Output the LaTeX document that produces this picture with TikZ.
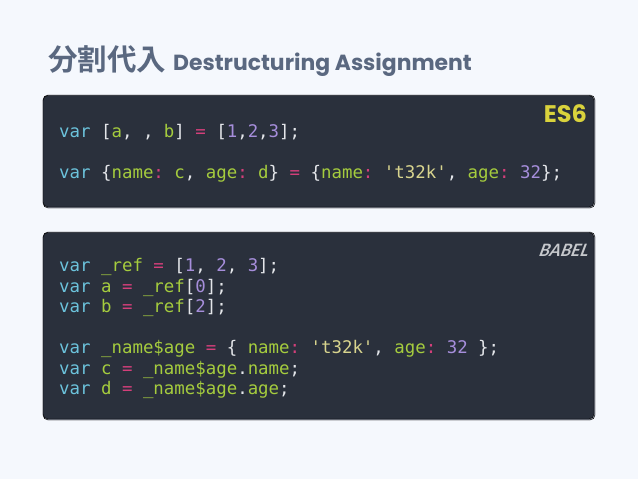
\documentclass[tikz,border=0pt]{standalone}
\usepackage{fontspec}
\setmainfont{Poppins}
\setmonofont{DejaVu Sans Mono}
\newfontfamily\cjk{Noto Sans CJK JP}[BoldFont={* Bold}]
\newfontfamily\babelfont{Lato}
\usetikzlibrary{calc}
\definecolor{pagebg}{HTML}{F5F8FD}
\definecolor{panelbg}{HTML}{2A303C}
\definecolor{paneledge}{HTML}{8A909C}
\definecolor{titlecol}{HTML}{5A6880}
\definecolor{kwcol}{HTML}{6CC3DC}
\definecolor{idcol}{HTML}{A5CC3E}
\definecolor{opcol}{HTML}{D33F7A}
\definecolor{numcol}{HTML}{A68EDB}
\definecolor{strcol}{HTML}{D8D48E}
\definecolor{plaincol}{HTML}{E4E6EA}
\definecolor{es6col}{HTML}{D9D23C}
\definecolor{babelcol}{HTML}{C6C8CC}
\newcommand{\cv}{\textcolor{kwcol}{var}}
\newcommand{\ci}[1]{\textcolor{idcol}{#1}}
\newcommand{\co}[1]{\textcolor{opcol}{#1}}
\newcommand{\cn}[1]{\textcolor{numcol}{#1}}
\newcommand{\cs}[1]{\textcolor{strcol}{#1}}
\tikzset{
	panel/.style={fill=panelbg, rounded corners=5pt},
	panelshade/.style={fill=paneledge, rounded corners=5pt},
	codeline/.style={anchor=base west, inner sep=0pt, text=plaincol, font=\ttfamily\fontsize{17.4}{20}\selectfont},
}
\begin{document}
\begin{tikzpicture}[x=1pt, y=-1pt]
		%%%%% START %%%%%
		
		\fill[pagebg] (0, 0) rectangle (638, 479);
		\useasboundingbox (0, 0) rectangle (638, 479);
		
		\node[anchor=base west, inner sep=0pt, text=titlecol, font=\cjk\bfseries\fontsize{29.5}{32}\selectfont] (titlejp) at (48, 70) {分割代入};
		\node[anchor=base west, inner sep=0pt, text=titlecol, font=\bfseries\fontsize{21.9}{24}\selectfont] (titleen) at (173, 70) {Destructuring Assignment};
		
		\draw[panelshade] (43, 95) rectangle (595, 208);
		\draw[panel] (43, 95.5) rectangle (594, 207);
		\node[anchor=base east, inner sep=0pt, text=es6col, font=\bfseries\fontsize{24}{26}\selectfont] (es6) at (587, 122) {ES6};
		\node[codeline] (lineA) at (59, 137.5) {\cv{} [\ci{a}, , \ci{b}] \co{=} [\cn{1},\cn{2},\cn{3}];};
		\node[codeline] (lineB) at (59, 178.5) {\cv{} \{\ci{name}\co{:} \ci{c}, \ci{age}\co{:} \ci{d}\} \co{=} \{\ci{name}\co{:} \cs{'t32k'}, \ci{age}\co{:} \cn{32}\};};
		
		\draw[panelshade] (43, 232) rectangle (595, 420);
		\draw[panel] (43, 232.5) rectangle (594, 419);
		\coordinate (babelpos) at (588, 256);
		\node[anchor=base east, inner sep=0pt, text=babelcol, font=\babelfont\bfseries\itshape\fontsize{17}{20}\selectfont, xslant=0.25, transform shape] (babel) at (babelpos) {BABEL};
		\node[codeline] (lineC) at (59, 271) {\cv{} \ci{\_ref} \co{=} [\cn{1}, \cn{2}, \cn{3}];};
		\node[codeline] (lineD) at (59, 292) {\cv{} \ci{a} \co{=} \ci{\_ref}[\cn{0}];};
		\node[codeline] (lineE) at (59, 312) {\cv{} \ci{b} \co{=} \ci{\_ref}[\cn{2}];};
		\node[codeline] (lineF) at (59, 353) {\cv{} \ci{\_name\$age} \co{=} \{ \ci{name}\co{:} \cs{'t32k'}, \ci{age}\co{:} \cn{32} \};};
		\node[codeline] (lineG) at (59, 374) {\cv{} \ci{c} \co{=} \ci{\_name\$age}.\ci{name};};
		\node[codeline] (lineH) at (59, 394) {\cv{} \ci{d} \co{=} \ci{\_name\$age}.\ci{age};};
		
		%%%%% END %%%%%
	\end{tikzpicture}
\end{document}
